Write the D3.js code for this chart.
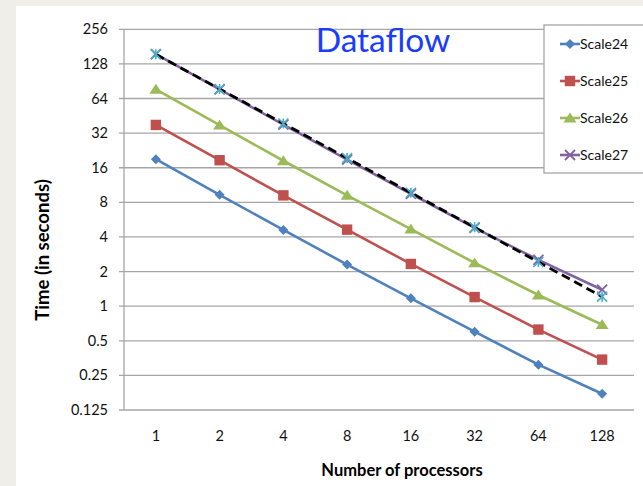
<!DOCTYPE html>
<html>
<head>
<meta charset="utf-8">
<script src="https://cdn.jsdelivr.net/npm/d3@7"></script>
<style>
  body { margin: 0; background: #efeee8; }
  svg { display: block; font-family: Lato, "Open Sans", sans-serif; }
</style>
</head>
<body>
<svg id="chart" width="643" height="486"></svg>
<script>
// chart data
const processors = [1, 2, 4, 8, 16, 32, 64, 128];
const yTicks = [0.125, 0.25, 0.5, 1, 2, 4, 8, 16, 32, 64, 128, 256];

const scale24 = [19.0, 9.3, 4.6, 2.3, 1.17, 0.6, 0.31, 0.173];
const scale25 = [37.7, 18.6, 9.2, 4.63, 2.33, 1.2, 0.626, 0.343];
const scale26 = [77, 37.5, 18.4, 9.2, 4.67, 2.38, 1.25, 0.69];
const scale27 = [156, 77, 37.9, 18.8, 9.5, 4.8, 2.53, 1.39];
const ideal = [155, 77.5, 38.8, 19.4, 9.7, 4.85, 2.42, 1.21];

const seriesNames = ['Scale24', 'Scale25', 'Scale26', 'Scale27'];
const seriesColors = ['#4f81bd', '#c0504d', '#9bbb59', '#8064a2'];
const seriesShapes = ['diamond', 'square', 'triangle', 'cross'];

const series = [scale24, scale25, scale26, scale27].map((vals, i) => ({
    name: seriesNames[i], color: seriesColors[i], shape: seriesShapes[i], values: vals
}));

const svg = d3.select('#chart');

// white chart area
svg.append('rect')
    .attr('x', 16).attr('y', 6)
    .attr('width', 643 - 16).attr('height', 486 - 6)
    .attr('fill', '#fff');

const plotLeft = 124, plotRight = 634, plotTop = 29.3, plotBottom = 410;

const x = d3.scalePoint()
    .domain(processors)
    .range([plotLeft, plotRight])
    .padding(0.5);

const y = d3.scaleLog()
    .base(2)
    .domain([0.125, 256])
    .range([plotBottom, plotTop]);

// gridlines
svg.append('g')
    .selectAll('line')
    .data(yTicks)
    .join('line')
    .attr('x1', plotLeft - 5).attr('x2', plotRight)
    .attr('y1', d => y(d)).attr('y2', d => y(d))
    .attr('stroke', '#a6a6a6')
    .attr('stroke-width', 1.3);

// y axis line
svg.append('line')
    .attr('x1', plotLeft).attr('x2', plotLeft)
    .attr('y1', plotTop).attr('y2', plotBottom)
    .attr('stroke', '#a6a6a6')
    .attr('stroke-width', 1.3);

// y tick labels
svg.append('g')
    .selectAll('text')
    .data(yTicks)
    .join('text')
    .attr('x', 108)
    .attr('y', d => y(d) + 5)
    .attr('text-anchor', 'end')
    .attr('font-size', 14.5)
    .attr('fill', '#111')
    .text(d => d);

// x tick labels
svg.append('g')
    .selectAll('text')
    .data(processors)
    .join('text')
    .attr('x', d => x(d))
    .attr('y', 441)
    .attr('text-anchor', 'middle')
    .attr('font-size', 14.5)
    .attr('fill', '#111')
    .text(d => d);

// axis titles
svg.append('text')
    .attr('x', 402).attr('y', 476)
    .attr('text-anchor', 'middle')
    .attr('font-size', 16.5)
    .attr('font-weight', 'bold')
    .text('Number of processors');

svg.append('text')
    .attr('transform', 'translate(49,250) rotate(-90)')
    .attr('text-anchor', 'middle')
    .attr('font-size', 18.5)
    .attr('font-weight', 'bold')
    .text('Time (in seconds)');

// title
svg.append('text')
    .attr('x', 383).attr('y', 52)
    .attr('text-anchor', 'middle')
    .attr('font-size', 33.5)
    .attr('fill', '#1a3cff')
    .text('Dataflow');

const line = d3.line()
    .x((d, i) => x(processors[i]))
    .y(d => y(d));

function drawMarker(g, shape, color, s) {
    if (shape === 'diamond') {
        g.append('path').attr('d', `M0,${-s}L${s},0L0,${s}L${-s},0Z`).attr('fill', color);
    } else if (shape === 'square') {
        g.append('rect').attr('x', -s).attr('y', -s).attr('width', 2 * s).attr('height', 2 * s).attr('fill', color);
    } else if (shape === 'triangle') {
        g.append('path').attr('d', `M0,${-s}L${s + 1},${s * 0.8}L${-s - 1},${s * 0.8}Z`).attr('fill', color);
    } else if (shape === 'cross') {
        g.append('path').attr('d', `M${-s},${-s}L${s},${s}M${-s},${s}L${s},${-s}`)
            .attr('stroke', color).attr('stroke-width', 1.8).attr('fill', 'none');
    } else if (shape === 'star') {
        g.append('path').attr('d', `M${-s},${-s}L${s},${s}M${-s},${s}L${s},${-s}M0,${-s}L0,${s}`)
            .attr('stroke', color).attr('stroke-width', 1.6).attr('fill', 'none');
    }
}

const markerSize = { diamond: 5, square: 5.2, triangle: 5.5, cross: 5 };

// series lines and markers
series.forEach(s => {
    svg.append('path')
        .datum(s.values)
        .attr('d', line)
        .attr('fill', 'none')
        .attr('stroke', s.color)
        .attr('stroke-width', 2.6);
    s.values.forEach((v, i) => {
        const g = svg.append('g').attr('transform', `translate(${x(processors[i])},${y(v)})`);
        drawMarker(g, s.shape, s.color, markerSize[s.shape]);
    });
});

// ideal scaling (dashed)
svg.append('path')
    .datum(ideal)
    .attr('d', line)
    .attr('fill', 'none')
    .attr('stroke', '#000')
    .attr('stroke-width', 2.8)
    .attr('stroke-dasharray', '9,5');
ideal.forEach((v, i) => {
    const g = svg.append('g').attr('transform', `translate(${x(processors[i])},${y(v)})`);
    drawMarker(g, 'star', '#4bacc6', 5);
});

// legend
const legend = svg.append('g');
legend.append('rect')
    .attr('x', 544).attr('y', 25)
    .attr('width', 110).attr('height', 148)
    .attr('fill', '#fff')
    .attr('stroke', '#a6a6a6')
    .attr('stroke-width', 1.3);

series.forEach((s, i) => {
    const ly = 44 + i * 37;
    legend.append('line')
        .attr('x1', 560).attr('x2', 580)
        .attr('y1', ly).attr('y2', ly)
        .attr('stroke', s.color)
        .attr('stroke-width', 2.6);
    const g = legend.append('g').attr('transform', `translate(570,${ly})`);
    drawMarker(g, s.shape, s.color, markerSize[s.shape]);
    legend.append('text')
        .attr('x', 580).attr('y', ly + 5)
        .attr('font-size', 14)
        .attr('fill', '#111')
        .text(s.name);
});
</script>
</body>
</html>
